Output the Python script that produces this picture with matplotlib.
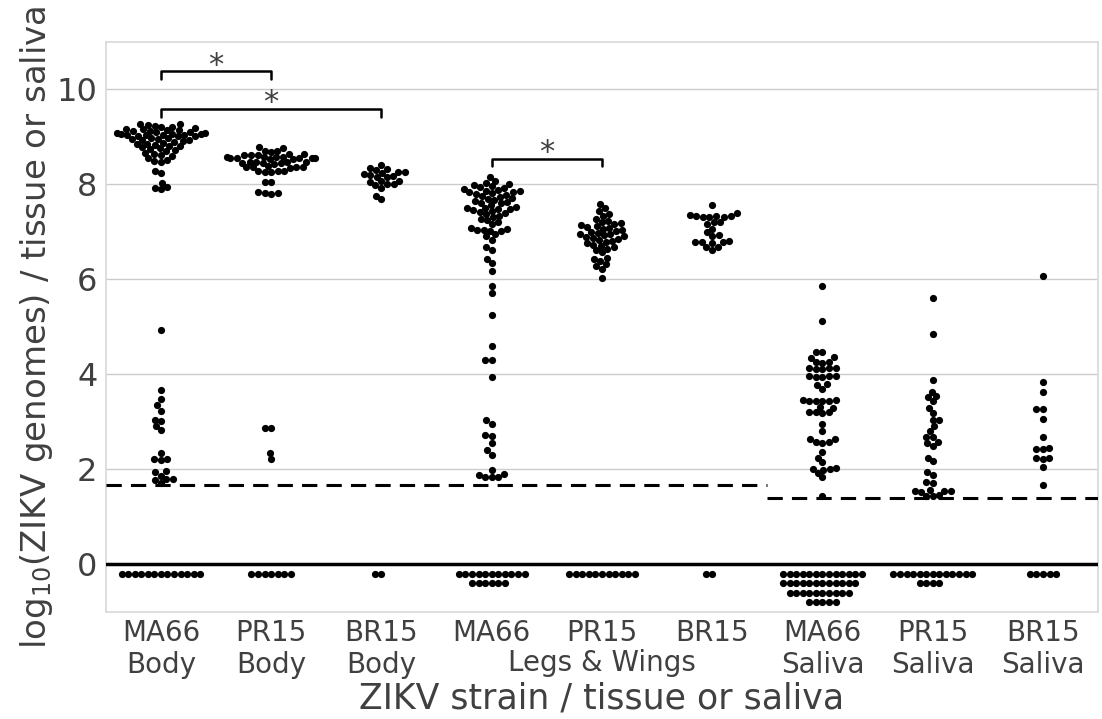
import numpy as np
import pandas as pd
import matplotlib
matplotlib.use('Agg')
import matplotlib.pyplot as plt
import seaborn as sns

# categories (x tick labels)
labels = ['MA66\nBody', 'PR15\nBody', 'BR15\nBody',
          'MA66', 'PR15', 'BR15',
          'MA66\nSaliva', 'PR15\nSaliva', 'BR15\nSaliva']
legs_label = 'Legs & Wings'

# nonzero log10 titers per group
ma66_body = [9.28, 9.25, 9.27, 9.22, 9.24, 9.20,
             9.15, 9.12, 9.18, 9.14, 9.16, 9.10, 9.13, 9.17, 9.11,
             9.05, 9.06, 9.04, 9.08, 9.02, 9.07, 9.03, 9.05, 9.06, 9.01, 9.04, 9.08,
             8.95, 8.97, 8.92, 8.98, 8.94, 8.96, 8.90, 8.93,
             8.85, 8.82, 8.88, 8.80, 8.86, 8.84,
             8.74, 8.72, 8.76, 8.70, 8.78,
             8.62, 8.64, 8.60, 8.66,
             8.52, 8.55, 8.50, 8.48,
             8.28, 8.25, 8.03, 7.93, 7.90, 7.95,
             4.93, 3.68, 3.49, 3.35, 3.24, 3.05, 3.01, 2.91, 2.82, 2.34,
             2.21, 2.20, 2.22, 1.96, 1.94, 1.87, 1.80, 1.78, 1.79, 1.71]
pr15_body = [8.78, 8.77, 8.71, 8.70, 8.69, 8.64, 8.63, 8.62, 8.65, 8.61,
             8.57, 8.56, 8.55, 8.58, 8.54, 8.56, 8.57, 8.55, 8.56, 8.54, 8.58,
             8.47, 8.46, 8.48, 8.45, 8.47, 8.44, 8.46, 8.48,
             8.37, 8.36, 8.38, 8.35, 8.37, 8.36,
             8.28, 8.27, 8.29, 8.26, 8.28,
             8.06, 8.05, 7.85, 7.82, 7.80, 7.83,
             2.88, 2.87, 2.35, 2.22]
br15_body = [8.42, 8.33, 8.31, 8.35, 8.26, 8.24, 8.22, 8.27, 8.18, 8.16, 8.19,
             8.15, 8.07, 8.05, 8.08, 8.00, 8.01, 7.98, 7.93, 7.76, 7.70]
ma66_legs = [8.15, 8.07, 8.04, 8.00, 7.98, 7.96, 7.94, 7.92, 7.90, 7.88,
             7.87, 7.86, 7.85, 7.84, 7.82, 7.80, 7.78, 7.76, 7.74, 7.72,
             7.70, 7.68, 7.66, 7.64, 7.62, 7.60, 7.57, 7.53, 7.51, 7.50,
             7.49, 7.48, 7.46, 7.44, 7.42, 7.40, 7.38, 7.34, 7.31, 7.28,
             7.25, 7.21, 7.16, 7.08, 7.06, 7.05, 7.04, 7.03, 7.02, 6.95,
             6.92, 6.84, 6.69, 6.61, 6.44, 6.34, 6.17, 5.87, 5.71, 5.26,
             4.59, 4.30, 4.31, 3.94, 3.03, 2.95, 2.72, 2.71, 2.55, 2.40, 2.30,
             1.98, 1.90, 1.88, 1.85, 1.84, 1.83]
pr15_legs = [7.58, 7.50, 7.45, 7.38, 7.34, 7.27, 7.24, 7.21, 7.18, 7.16,
             7.14, 7.12, 7.10, 7.08, 7.06, 7.04, 7.02, 7.00, 6.98, 6.96,
             6.95, 6.93, 6.91, 6.89, 6.87, 6.85, 6.83, 6.81, 6.79, 6.76,
             6.73, 6.70, 6.68, 6.65, 6.61, 6.57, 6.45, 6.42, 6.38, 6.32,
             6.28, 6.22, 6.04]
br15_legs = [7.56, 7.39, 7.33, 7.32, 7.34, 7.33, 7.31, 7.35, 7.32, 7.22, 7.21,
             7.16, 7.07, 6.99, 6.93, 6.92, 6.78, 6.79, 6.77, 6.78, 6.80,
             6.69, 6.68, 6.63]
ma66_sal = [5.87, 5.12, 4.48, 4.47, 4.36, 4.35, 4.26, 4.25, 4.27,
            4.13, 4.12, 4.14, 4.11, 4.13, 3.96, 3.95, 3.97, 3.94, 3.96,
            3.79, 3.78, 3.70, 3.45, 3.44, 3.46, 3.43, 3.45, 3.47,
            3.31, 3.30, 3.20, 3.19, 3.21, 3.20, 2.95, 2.80, 2.65, 2.64,
            2.57, 2.56, 2.58, 2.36, 2.25, 2.15, 2.00, 2.01, 1.99, 2.02,
            1.92, 1.83, 1.45]
pr15_sal = [5.60, 4.86, 3.89, 3.64, 3.54, 3.53, 3.43, 3.30, 3.19, 3.05, 3.04,
            2.91, 2.80, 2.69, 2.68, 2.57, 2.56, 2.49, 2.25, 2.17, 1.94, 1.89,
            1.73, 1.72, 1.54, 1.55, 1.53, 1.56, 1.54, 1.45, 1.46, 1.44]
br15_sal = [6.08, 3.83, 3.64, 3.28, 3.27, 3.07, 2.69, 2.44, 2.45, 2.43,
            2.23, 2.24, 2.22, 2.04, 1.68]

groups = [ma66_body, pr15_body, br15_body, ma66_legs, pr15_legs, br15_legs,
          ma66_sal, pr15_sal, br15_sal]

# number of zero (undetected) samples, drawn in rows below the 0 line
zero_rows = [[13], [7], [2], [11, 6], [11], [2], [13, 12, 10, 5], [13, 4], [5]]

# limits of detection
lod_body = 1.68
lod_saliva = 1.40

# significance brackets: (group a, group b, height)
sig_pairs = [(0, 1, 10.38), (0, 2, 9.58), (3, 4, 8.53)]

rows = []
for i, (vals, zr) in enumerate(zip(groups, zero_rows)):
    for v in vals:
        rows.append((i, v))
    for k, n in enumerate(zr):
        rows += [(i, -0.2 * (k + 1))] * n
df = pd.DataFrame(rows, columns=['group', 'titer'])

sns.set_theme(style='whitegrid')
plt.rcParams['font.family'] = ['DejaVu Sans']

fig = plt.figure(figsize=(11.02, 7.19), dpi=100)
ax = fig.add_axes([0.096, 0.149, 0.9005, 0.7926])

sns.swarmplot(data=df, x='group', y='titer', order=list(range(len(labels))),
              color='black', size=4.5, ax=ax)

ax.set_xlim(-0.5, 8.5)
ax.set_ylim(-1, 11)

# swarm layout is done with small markers; redraw the final positions a bit larger
fig.canvas.draw()
for coll in list(ax.collections):
    offs = np.asarray(coll.get_offsets())
    coll.remove()
    if len(offs):
        ax.scatter(offs[:, 0], offs[:, 1], s=27, color='black', linewidths=0, zorder=4)

ax.axhline(0, color='black', lw=2.5, zorder=3)
ax.plot([-0.5, 5.5], [lod_body, lod_body], color='black', lw=2.2, ls=(0, (5, 3)), zorder=3)
ax.plot([5.5, 8.5], [lod_saliva, lod_saliva], color='black', lw=2.2, ls=(0, (5, 3)), zorder=3)

for a, b, h in sig_pairs:
    ax.plot([a, a, b, b], [h - 0.15, h, h, h - 0.15], color='black', lw=1.8)
    ax.text((a + b) / 2, h - 0.17, '*', ha='center', va='bottom', fontsize=22, color='.25')

ax.set_xlim(-0.5, 8.5)
ax.set_ylim(-1, 11)
ax.set_yticks([0, 2, 4, 6, 8, 10])
ax.set_xticks(range(len(labels)))
ax.set_xticklabels(labels)
ax.grid(axis='x', visible=False)
ax.tick_params(axis='x', labelsize=20, colors='.25', length=0, pad=5)
ax.tick_params(axis='y', labelsize=23, colors='.25', length=0, pad=6)
ax.text(4, -0.065, legs_label, transform=ax.get_xaxis_transform(),
        ha='center', va='top', fontsize=20, color='.25')
ax.set_xlabel('ZIKV strain / tissue or saliva', fontsize=25, color='.25', labelpad=2)
ax.set_ylabel(r'log$_{10}$(ZIKV genomes) / tissue or saliva', fontsize=24.5, color='.25',
              labelpad=1)
for s in ax.spines.values():
    s.set_color('.85')

fig.savefig('out.png', dpi=100)
